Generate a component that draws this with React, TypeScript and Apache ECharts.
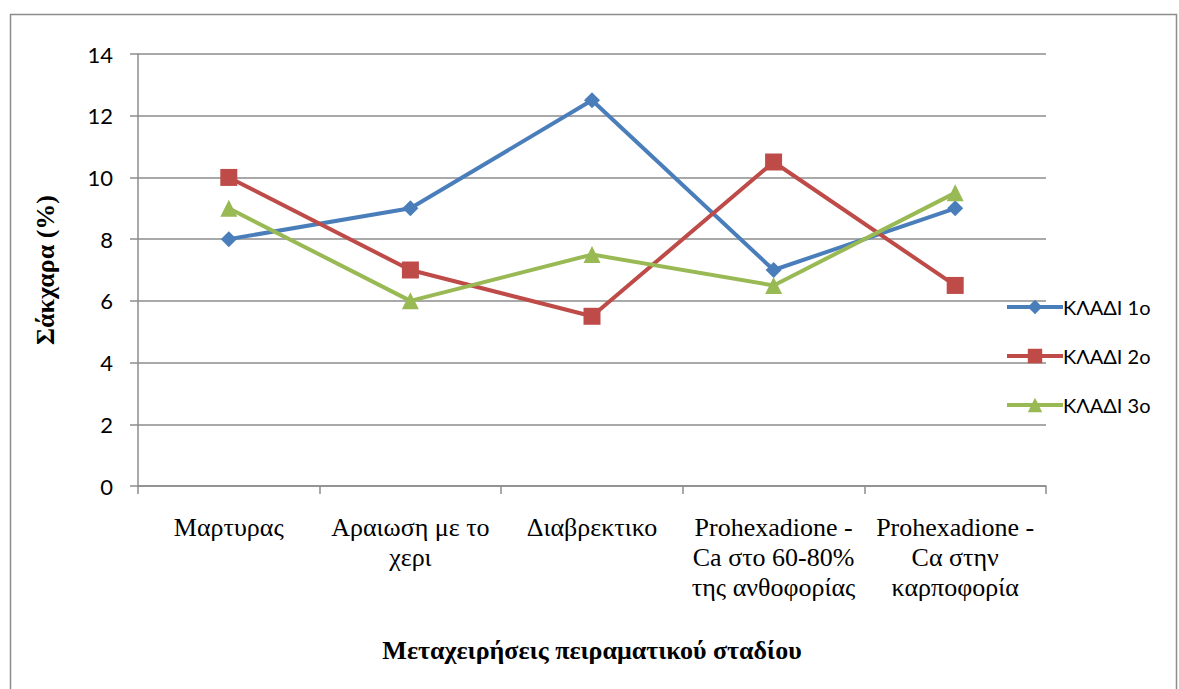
import React, { useEffect, useRef } from "react";
import * as echarts from "echarts";

// Treatments along the x axis
const categories: string[] = [
  "Μαρτυρας",
  "Αραιωση με το\nχερι",
  "Διαβρεκτικο",
  "Prohexadione -\nCa στο 60-80%\nτης ανθοφορίας",
  "Prohexadione -\nCα στην\nκαρποφορία",
];

// Sugar content (%) per branch
const branch1: number[] = [8, 9, 12.5, 7, 9];
const branch2: number[] = [10, 7, 5.5, 10.5, 6.5];
const branch3: number[] = [9, 6, 7.5, 6.5, 9.5];

const seriesNames: string[] = ["ΚΛΑΔΙ 1ο", "ΚΛΑΔΙ 2ο", "ΚΛΑΔΙ 3ο"];
const seriesColors: string[] = ["#4A7EBB", "#BE4B48", "#98B954"];

const yTitle = "Σάκχαρα (%)";
const xTitle = "Μεταχειρήσεις πειραματικού σταδίου";

const sansFont = "Lato, 'Liberation Sans', sans-serif";
const serifFont = "'Liberation Serif', 'DejaVu Serif', serif";

export default function App() {
  const ref = useRef<HTMLDivElement>(null);

  useEffect(() => {
    document.body.style.margin = "0";
    if (!ref.current) return;
    const chart = echarts.init(ref.current, null, { renderer: "svg" });

    const grid = "#8c8c8c";

    chart.setOption({
      animation: false,
      backgroundColor: "#ffffff",
      graphic: [
        {
          type: "rect",
          shape: { x: 10.5, y: 14.5, width: 1166, height: 690 },
          style: { fill: "none", stroke: "#8c8c8c", lineWidth: 1.5 },
          silent: true,
        },
      ],
      grid: { left: 138, right: 133, top: 54, bottom: 203 },
      legend: {
        orient: "vertical",
        left: 1000,
        top: 292,
        itemWidth: 56,
        itemHeight: 18,
        itemGap: 29,
        lineStyle: { width: 4 },
        textStyle: { fontFamily: sansFont, fontSize: 20, color: "#000", padding: [0, 0, 0, -5] },
        data: seriesNames,
      },
      xAxis: {
        type: "category",
        data: categories,
        boundaryGap: true,
        axisLine: { show: true, lineStyle: { color: grid, width: 1.5 } },
        axisTick: { show: true, length: 8, alignWithLabel: false, lineStyle: { color: grid, width: 1.5 } },
        axisLabel: {
          interval: 0,
          margin: 26,
          fontFamily: serifFont,
          fontSize: 26,
          lineHeight: 30,
          color: "#000",
          align: "center",
        },
        name: xTitle,
        nameLocation: "middle",
        nameGap: 151,
        nameTextStyle: { fontFamily: serifFont, fontSize: 26, fontWeight: "bold", color: "#000" },
      },
      yAxis: {
        type: "value",
        min: 0,
        max: 14,
        interval: 2,
        axisLine: { show: true, lineStyle: { color: grid, width: 1.5 } },
        axisTick: { show: true, length: 8, lineStyle: { color: grid, width: 1.5 } },
        splitLine: { show: true, lineStyle: { color: grid, width: 1.5 } },
        axisLabel: { margin: 25, fontFamily: sansFont, fontSize: 22, color: "#000" },
        name: yTitle,
        nameLocation: "middle",
        nameGap: 80,
        nameRotate: 90,
        nameTextStyle: { fontFamily: serifFont, fontSize: 26, fontWeight: "bold", color: "#000" },
      },
      series: [
        {
          name: seriesNames[0],
          type: "line",
          data: branch1,
          symbol: "diamond",
          symbolSize: 16,
          lineStyle: { width: 4, color: seriesColors[0] },
          itemStyle: { color: seriesColors[0] },
        },
        {
          name: seriesNames[1],
          type: "line",
          data: branch2,
          symbol: "rect",
          symbolSize: 17,
          lineStyle: { width: 4, color: seriesColors[1] },
          itemStyle: { color: seriesColors[1] },
        },
        {
          name: seriesNames[2],
          type: "line",
          data: branch3,
          symbol: "triangle",
          symbolSize: 17,
          lineStyle: { width: 4, color: seriesColors[2] },
          itemStyle: { color: seriesColors[2] },
        },
      ],
    });

    return () => chart.dispose();
  }, []);

  return <div ref={ref} style={{ width: 1179, height: 689 }} />;
}
